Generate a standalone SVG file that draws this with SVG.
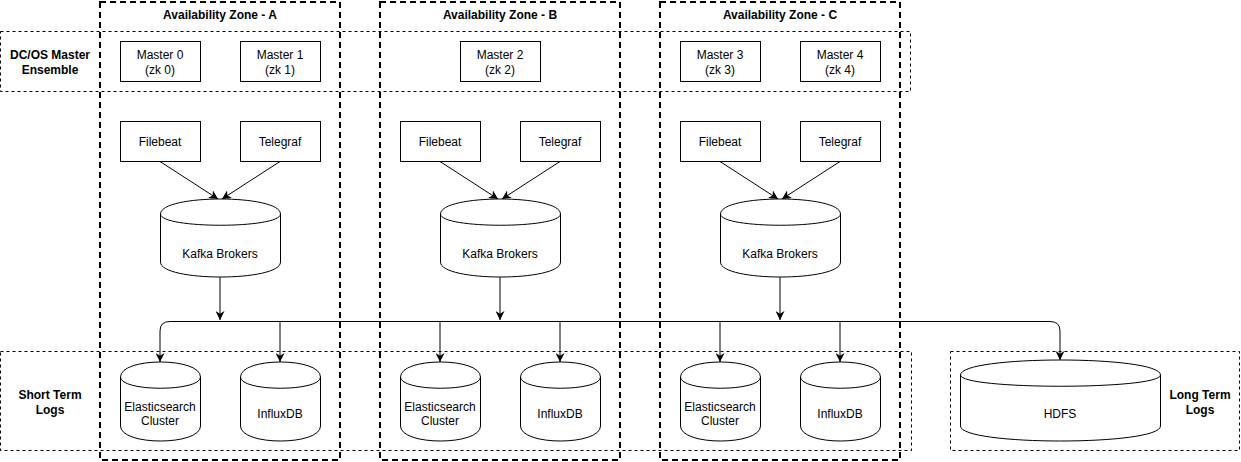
<svg xmlns="http://www.w3.org/2000/svg" width="1241" height="462" viewBox="0 0 1241 462">
<style>
text{font-family:"Liberation Sans",Arial,sans-serif;font-size:12px;fill:#000;text-anchor:middle}
.b{font-weight:bold}
.zone{fill:none;stroke:#000;stroke-width:2;stroke-dasharray:6 4}
.row{fill:none;stroke:#000;stroke-width:1;stroke-dasharray:3 3}
.box{fill:#fff;stroke:#000;stroke-width:1}
.cyl{fill:#fff;stroke:#000;stroke-width:1}
.edge{fill:none;stroke:#000;stroke-width:1}
</style>
<defs>
<marker id="arr" viewBox="0 0 10 10" refX="10" refY="5" markerWidth="9" markerHeight="9" markerUnits="userSpaceOnUse" orient="auto">
<path d="M0,0 L10,5 L0,10 L3,5 Z" fill="#000"/>
</marker>
</defs>
<rect width="1241" height="462" fill="#fff"/>

<g id="row-master">
<rect class="row" x="0.5" y="31.5" width="910" height="60"/>
<text class="b" x="50" y="59">DC/OS Master</text>
<text class="b" x="50" y="74">Ensemble</text>
</g>
<g id="row-short">
<rect class="row" x="0.5" y="351.5" width="911" height="99"/>
<text class="b" x="50" y="399">Short Term</text>
<text class="b" x="50" y="414">Logs</text>
</g>
<g id="row-long">
<rect class="row" x="950.5" y="351.5" width="289" height="99"/>
<text class="b" x="1200" y="399">Long Term</text>
<text class="b" x="1200" y="414">Logs</text>
</g>

<g id="zone-a">
<rect class="zone" x="100" y="2" width="240" height="458"/>
<text class="b" x="220" y="19">Availability Zone - A</text>
</g>
<g id="zone-b">
<rect class="zone" x="380" y="2" width="240" height="458"/>
<text class="b" x="500" y="19">Availability Zone - B</text>
</g>
<g id="zone-c">
<rect class="zone" x="660" y="2" width="240" height="458"/>
<text class="b" x="780" y="19">Availability Zone - C</text>
</g>

<g id="connectors">
<path class="edge" d="M160,161.5 L218,199" marker-end="url(#arr)"/>
<path class="edge" d="M280,161.5 L222,199" marker-end="url(#arr)"/>
<path class="edge" d="M440,161.5 L498,199" marker-end="url(#arr)"/>
<path class="edge" d="M560,161.5 L502,199" marker-end="url(#arr)"/>
<path class="edge" d="M720,161.5 L778,199" marker-end="url(#arr)"/>
<path class="edge" d="M840,161.5 L782,199" marker-end="url(#arr)"/>
<path class="edge" d="M220,277 L220,320" marker-end="url(#arr)"/>
<path class="edge" d="M500,277 L500,320" marker-end="url(#arr)"/>
<path class="edge" d="M780,277 L780,320" marker-end="url(#arr)"/>
<path class="edge" d="M160,331 Q160,321.5 170,321.5 L1050,321.5 Q1060,321.5 1060,331 L1060,360" marker-end="url(#arr)"/>
<path class="edge" d="M160,331 L160,362" marker-end="url(#arr)"/>
<path class="edge" d="M280,321.5 L280,362" marker-end="url(#arr)"/>
<path class="edge" d="M440,321.5 L440,362" marker-end="url(#arr)"/>
<path class="edge" d="M560,321.5 L560,362" marker-end="url(#arr)"/>
<path class="edge" d="M720,321.5 L720,362" marker-end="url(#arr)"/>
<path class="edge" d="M840,321.5 L840,362" marker-end="url(#arr)"/>
</g>

<g id="master0"><rect class="box" x="120.5" y="41.5" width="80" height="40"/><text x="160" y="59">Master 0</text><text x="160" y="74">(zk 0)</text></g>
<g id="master1"><rect class="box" x="240.5" y="41.5" width="80" height="40"/><text x="280" y="59">Master 1</text><text x="280" y="74">(zk 1)</text></g>
<g id="master2"><rect class="box" x="460.5" y="41.5" width="80" height="40"/><text x="500" y="59">Master 2</text><text x="500" y="74">(zk 2)</text></g>
<g id="master3"><rect class="box" x="680.5" y="41.5" width="80" height="40"/><text x="720" y="59">Master 3</text><text x="720" y="74">(zk 3)</text></g>
<g id="master4"><rect class="box" x="800.5" y="41.5" width="80" height="40"/><text x="840" y="59">Master 4</text><text x="840" y="74">(zk 4)</text></g>

<g id="filebeat-a"><rect class="box" x="120.5" y="121.5" width="80" height="40"/><text x="160" y="146">Filebeat</text></g>
<g id="telegraf-a"><rect class="box" x="240.5" y="121.5" width="80" height="40"/><text x="280" y="146">Telegraf</text></g>
<g id="filebeat-b"><rect class="box" x="400.5" y="121.5" width="80" height="40"/><text x="440" y="146">Filebeat</text></g>
<g id="telegraf-b"><rect class="box" x="520.5" y="121.5" width="80" height="40"/><text x="560" y="146">Telegraf</text></g>
<g id="filebeat-c"><rect class="box" x="680.5" y="121.5" width="80" height="40"/><text x="720" y="146">Filebeat</text></g>
<g id="telegraf-c"><rect class="box" x="800.5" y="121.5" width="80" height="40"/><text x="840" y="146">Telegraf</text></g>

<g id="kafka-a"><path class="cyl" d="M160.5,214 C160.5,194 280.5,194 280.5,214 L280.5,262 C280.5,282 160.5,282 160.5,262 Z M160.5,214 C160.5,229 280.5,229 280.5,214"/><text x="220" y="258">Kafka Brokers</text></g>
<g id="kafka-b"><path class="cyl" d="M440.5,214 C440.5,194 560.5,194 560.5,214 L560.5,262 C560.5,282 440.5,282 440.5,262 Z M440.5,214 C440.5,229 560.5,229 560.5,214"/><text x="500" y="258">Kafka Brokers</text></g>
<g id="kafka-c"><path class="cyl" d="M720.5,214 C720.5,194 840.5,194 840.5,214 L840.5,262 C840.5,282 720.5,282 720.5,262 Z M720.5,214 C720.5,229 840.5,229 840.5,214"/><text x="780" y="258">Kafka Brokers</text></g>

<g id="es-a"><path class="cyl" d="M120.5,377 C120.5,357 200.5,357 200.5,377 L200.5,426 C200.5,446 120.5,446 120.5,426 Z M120.5,377 C120.5,392 200.5,392 200.5,377"/><text x="160" y="411">Elasticsearch</text><text x="160" y="425">Cluster</text></g>
<g id="influx-a"><path class="cyl" d="M240.5,377 C240.5,357 320.5,357 320.5,377 L320.5,426 C320.5,446 240.5,446 240.5,426 Z M240.5,377 C240.5,392 320.5,392 320.5,377"/><text x="280" y="418">InfluxDB</text></g>
<g id="es-b"><path class="cyl" d="M400.5,377 C400.5,357 480.5,357 480.5,377 L480.5,426 C480.5,446 400.5,446 400.5,426 Z M400.5,377 C400.5,392 480.5,392 480.5,377"/><text x="440" y="411">Elasticsearch</text><text x="440" y="425">Cluster</text></g>
<g id="influx-b"><path class="cyl" d="M520.5,377 C520.5,357 600.5,357 600.5,377 L600.5,426 C600.5,446 520.5,446 520.5,426 Z M520.5,377 C520.5,392 600.5,392 600.5,377"/><text x="560" y="418">InfluxDB</text></g>
<g id="es-c"><path class="cyl" d="M680.5,377 C680.5,357 760.5,357 760.5,377 L760.5,426 C760.5,446 680.5,446 680.5,426 Z M680.5,377 C680.5,392 760.5,392 760.5,377"/><text x="720" y="411">Elasticsearch</text><text x="720" y="425">Cluster</text></g>
<g id="influx-c"><path class="cyl" d="M800.5,377 C800.5,357 880.5,357 880.5,377 L880.5,426 C880.5,446 800.5,446 800.5,426 Z M800.5,377 C800.5,392 880.5,392 880.5,377"/><text x="840" y="418">InfluxDB</text></g>

<g id="hdfs"><path class="cyl" d="M960.5,375 C960.5,355 1160.5,355 1160.5,375 L1160.5,426 C1160.5,446 960.5,446 960.5,426 Z M960.5,375 C960.5,390 1160.5,390 1160.5,375"/><text x="1060" y="418">HDFS</text></g>
</svg>
